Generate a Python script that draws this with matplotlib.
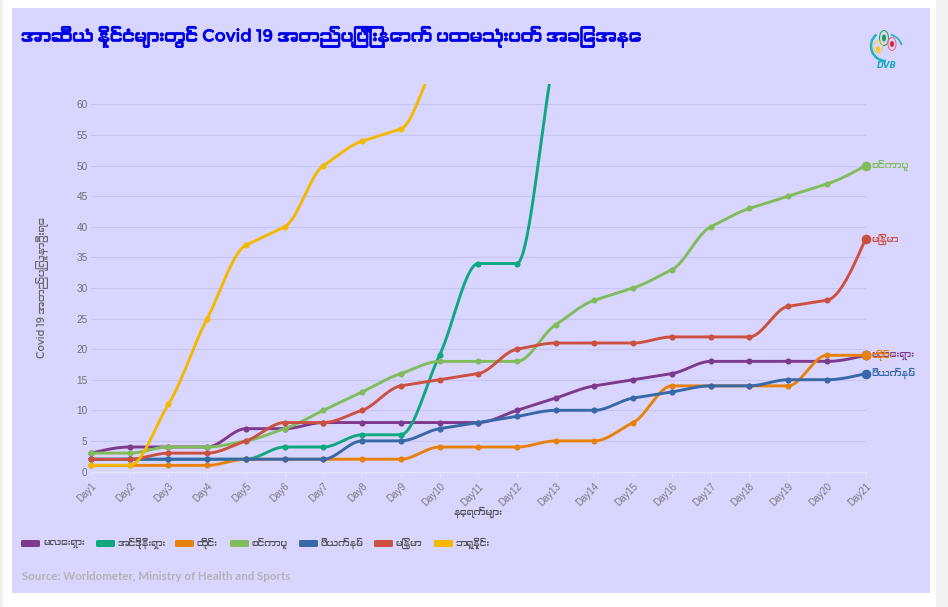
import numpy as np
import matplotlib
matplotlib.use("Agg")
import matplotlib.pyplot as plt
from matplotlib import font_manager as fm
from matplotlib import patheffects as pe
from matplotlib.patches import Rectangle, FancyBboxPatch, Ellipse, Arc
from matplotlib.transforms import Bbox, Affine2D

W, H = 948, 607
days = [f"Day{i}" for i in range(1, 22)]
countries = ["မလေးရှား", "အင်ဒိုနီးရှား", "ထိုင်း", "စင်ကာပူ", "ဗီယက်နမ်", "မြန်မာ", "ဘရူနိုင်း"]
malaysia = [3,4,4,4,7,7,8,8,8,8,8,10,12,14,15,16,18,18,18,18,19]
indonesia = [2,2,2,2,2,4,4,6,6,19,34,34,69,96,117,134,172,227,311,369,450]
thailand = [1,1,1,1,2,2,2,2,2,4,4,4,5,5,8,14,14,14,14,19,19]
singapore = [3,3,4,4,5,7,10,13,16,18,18,18,24,28,30,33,40,43,45,47,50]
vietnam = [2,2,2,2,2,2,2,5,5,7,8,9,10,10,12,13,14,14,15,15,16]
myanmar = [2,2,3,3,5,8,8,10,14,15,16,20,21,21,21,22,22,22,27,28,38]
brunei = [1,1,11,25,37,40,50,54,56,68,75,78,83,88,91,104,109,114,115,120,126]
series = [malaysia, indonesia, thailand, singapore, vietnam, myanmar, brunei]
colors = ["#7d3a8c", "#0fa87e", "#e8810c", "#82bb5a", "#3868a8", "#cc5040", "#f4b800"]
title = "အာဆီယံ နိုင်ငံများတွင် Covid 19 အတည်ပြုပြီးနောက် ပထမသုံးပတ် အခြေအနေ"
ylabel = "Covid 19 အတည်ပြုလူနာဦးရေ"
xlabel = "နေ့ရက်များ"
source = "Source: Worldometer, Ministry of Health and Sports"
yticks = list(range(0, 65, 5))

extra = [f.name for f in fm.fontManager.ttflist if "myanmar" in f.name.lower() or "padauk" in f.name.lower()]
fam = extra[:1] + ["Noto Sans", "DejaVu Sans"]
plt.rcParams["font.family"] = fam

def monotone(y, n=24):
    y = np.asarray(y, float)
    d = np.diff(y)
    m = np.zeros_like(y)
    for i in range(1, len(y) - 1):
        if d[i-1] * d[i] > 0:
            s = np.sign(d[i-1])
            m[i] = s * min(abs(d[i-1]), abs(d[i]), 0.5 * abs(d[i-1] + d[i]))
    m[0] = (3 * d[0] - m[1]) / 2 if d[0] != 0 else 0
    m[-1] = (3 * d[-1] - m[-2]) / 2 if d[-1] != 0 else 0
    xs, ys = [], []
    for i in range(len(d)):
        t = np.linspace(0, 1, n, endpoint=False)
        h00 = 2*t**3 - 3*t**2 + 1
        h10 = t**3 - 2*t**2 + t
        h01 = -2*t**3 + 3*t**2
        h11 = t**3 - t**2
        xs.append(i + t)
        ys.append(h00*y[i] + h10*m[i] + h01*y[i+1] + h11*m[i+1])
    return np.r_[np.concatenate(xs), len(y)-1], np.r_[np.concatenate(ys), y[-1]]

fig = plt.figure(figsize=(W/100, H/100), dpi=100, facecolor="#ffffff")
px = Affine2D().scale(1, -1).translate(0, H)   # pixel coords, y down

def add_rect(x0, y0, x1, y1, c, z=0):
    fig.add_artist(Rectangle((x0, y0), x1-x0, y1-y0, transform=px, fc=c, ec="none", zorder=z))

add_rect(0, 0, 3, H, "#f0f0f0")
add_rect(936, 0, W, H, "#f2f2f2")
add_rect(12, 8, 930, 593, "#d8d6ff", 0.5)

L, R, B, T = 91, 865.5, 471.5, 84
ax = fig.add_axes([L/W, 1-B/H, (R-L)/W, (B-T)/H], facecolor="none")
ax.set_zorder(2)
ax.set_xlim(0, 20)
ax.set_ylim(0, (B-T)/6.117)
for s in ax.spines.values():
    s.set_visible(False)
ax.set_yticks(yticks[:13])
ax.set_yticklabels([str(v) for v in yticks[:13]], family="Liberation Sans", fontsize=7.2, color="#707070")
ax.tick_params(axis="y", length=0, pad=2.5)
ax.set_xticks(range(21))
ax.set_xticklabels(days, rotation=45, ha="right", va="top", rotation_mode="anchor",
                   family="Liberation Sans", fontsize=7.0, color="#7a7a7a")
ax.tick_params(axis="x", length=4, width=0.7, color="#e6e6ff", pad=3)
for v in yticks[1:]:
    ax.axhline(v, color="#c6c4f6", lw=0.8, zorder=1)
ax.axhline(0, color="#e6e6ff", lw=0.9, zorder=1, clip_on=False)

clip = Bbox([[L-8, H-B-8], [R+8, H-T]])
for i, (vals, c) in enumerate(zip(series, colors)):
    x, y = monotone(vals)
    ln, = ax.plot(x, y, color=c, lw=2.1, zorder=3+i, solid_capstyle="round")
    ln.set_clip_box(clip)
    mk, = ax.plot(range(21), vals, ls="none", marker="o", ms=4.4, color=c, mew=0, zorder=3+i)
    mk.set_clip_box(clip)
    if i in (0, 2, 3, 4, 5):
        end, = ax.plot([20], [vals[-1]], ls="none", marker="o", ms=7, color=c, mew=0, zorder=3+i)
        end.set_clip_box(clip)
        fig.text(871/W, 1-(B-vals[-1]*6.117)/H, countries[i], color=c, fontsize=6.8,
                 va="center", ha="left", zorder=20)

fig.text(21/W, 1-37/H, title, color="#0000e6", fontsize=12.3, fontweight="bold", va="center", ha="left",
         path_effects=[pe.withStroke(linewidth=0.4, foreground="#0000e6")])
fig.text(43/W, 1-288/H, ylabel, color="#666666", fontsize=7.3, rotation=90, va="center", ha="center")
fig.text(478/W, 1-512/H, xlabel, color="#555555", fontsize=6.8, va="center", ha="center")

sw_x = [21, 96, 175, 230, 299, 374, 434]
tx_x = [44, 118, 197, 252, 321, 396, 456]
for c, a, b, name in zip(colors, sw_x, tx_x, countries):
    fig.add_artist(FancyBboxPatch((a+1, 541), 17, 5, boxstyle="round,pad=1,rounding_size=1.5",
                                  transform=px, fc=c, ec="none", zorder=5))
    fig.text(b/W, 1-543.5/H, name, color="#555555", fontsize=6.7, va="center", ha="left")

fig.text(22/W, 1-577/H, source, color="#b3b3b3", fontsize=8.3, family="Lato", fontweight="bold", va="center", ha="left")

# logo
def e(cx, cy, w, h, fc, ec, ang=0):
    fig.add_artist(Ellipse((cx, cy), w, h, angle=ang, transform=px, fc=fc, ec=ec, lw=0.8, zorder=6))
fig.add_artist(Arc((886, 46), 30, 30, theta1=90, theta2=230, transform=px, color="#20b2c8", lw=1.8, zorder=6))
fig.add_artist(Arc((886, 48), 32, 28, theta1=-70, theta2=-10, transform=px, color="#20b2c8", lw=1.2, zorder=6))
e(884, 38, 9, 15, "none", "#2aa84a")
e(884, 38, 4, 7, "#1f9e3f", "none")
e(892, 44, 8, 13, "none", "#e87088")
e(892, 44, 4, 6, "#d8203c", "none")
e(878, 47, 9, 12, "none", "#f4d040")
e(878, 49, 4, 6, "#f4c820", "none")
fig.text(887/W, 1-66/H, "DVB", color="#18a8c0", fontsize=6, fontweight="bold", style="italic",
         family="DejaVu Sans", va="center", ha="center", zorder=7)

fig.savefig("out.png", dpi=100)
